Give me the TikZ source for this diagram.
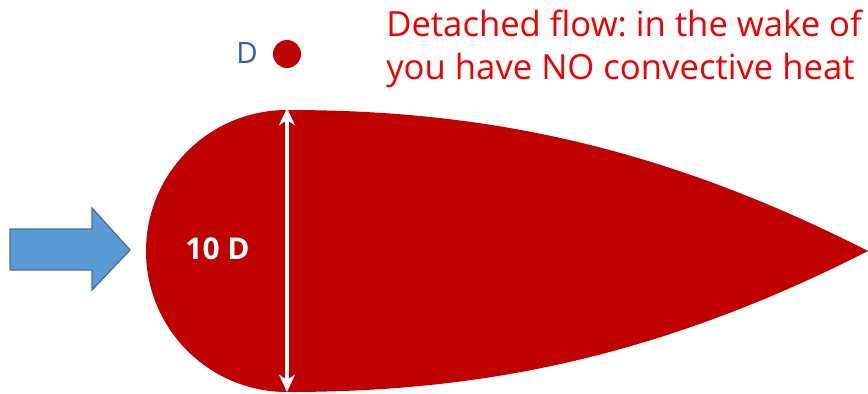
\documentclass[tikz,border=0pt]{standalone}
\usepackage{fontspec}
\setmainfont{Open Sans}
\usepackage{tikz}
\usetikzlibrary{
  arrows.meta,
  positioning,
}
\definecolor{bodyred}{HTML}{C00000}
\definecolor{flowblue}{HTML}{5B9BD5}
\definecolor{flowedge}{HTML}{41719C}
\definecolor{labelblue}{HTML}{2F5DA8}
\definecolor{notered}{HTML}{F00000}
\frenchspacing

\begin{document}
\begin{tikzpicture}[
    x=0.75pt, y=-0.75pt,
    note/.style={text=notered, font=\fontsize{26}{31}\selectfont, anchor=base west, inner sep=0pt},
    dim/.style={white, line width=2.4pt, {Stealth[length=13pt,width=12pt,inset=4pt]}-{Stealth[length=13pt,width=12pt,inset=4pt]}},
  ]
  \useasboundingbox (0,0) rectangle (868,393);
  \clip (0,0) rectangle (868,393);

  % Wake body
  \fill[bodyred] (287,110) .. controls (470,110) and (650,140) .. (868,251)
    .. controls (650,362) and (470,392) .. (287,392)
    arc[start angle=90, end angle=270, radius=141] -- cycle;

  % Diameter
  \coordinate (dtop) at (287,108);
  \coordinate (dbot) at (287,392);
  \draw[dim] (dtop) -- (dbot);
  \node[text=white, font=\bfseries\fontsize{22.5}{26}\selectfont] (size) at (217.5,249) {10 D};

  % Incoming flow
  \filldraw[fill=flowblue, draw=flowedge, line width=1pt]
    (10,229) -- (92,229) -- (92,208) -- (130,250) -- (92,290) -- (92,270) -- (10,270) -- cycle;

  % Small cylinder
  \fill[bodyred] (287,54) circle[radius=14];
  \node[text=labelblue, font=\fontsize{22}{26}\selectfont] (dlabel) at (247,53.5) {D};

  % Note
  \node[note] (line1) at (386,36.7) {Detached flow: in the wake of};
  \node[note] (line2) at (386,79) {you have NO convective heat};
\end{tikzpicture}
\end{document}
